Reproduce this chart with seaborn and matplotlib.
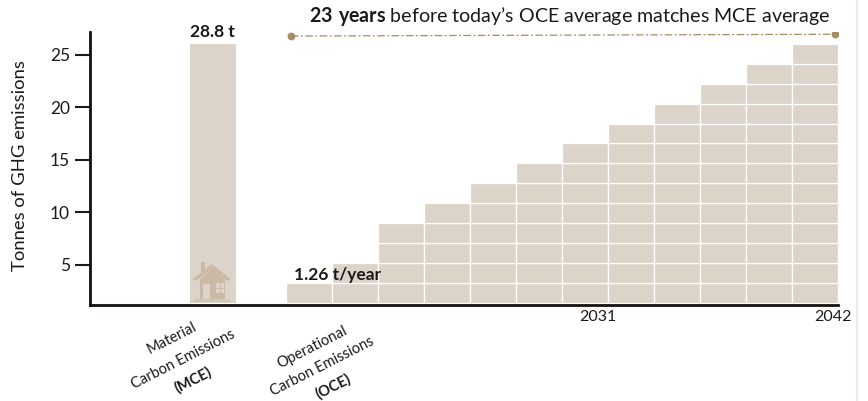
import matplotlib
matplotlib.use("Agg")
import matplotlib.pyplot as plt
from matplotlib.lines import Line2D
from matplotlib.patches import Polygon
from matplotlib.transforms import IdentityTransform
import pandas as pd
import seaborn as sns

# Emissions in tonnes of GHG
mce_total = 28.8
oce_rate = 1.26
block_tonnes = 2.215
column_index = list(range(12))
blocks_per_column = [1, 2, 4, 5, 6, 7, 8, 9, 10, 11, 12, 13]
y_tick_labels = [5, 10, 15, 20, 25]
mce_lines = ["Material", "Carbon Emissions", "(MCE)"]
oce_lines = ["Operational", "Carbon Emissions", "(OCE)"]
year_labels = ["2031", "2042"]

BAR = "#ddd4c9"
INK = "#1c1a18"
LINK = "#a68c66"
ICON = "#c9b9a5"

sns.set_theme(style="white")
plt.rcParams["font.family"] = ["Lato", "DejaVu Sans"]
plt.rcParams["mathtext.fontset"] = "custom"
plt.rcParams["mathtext.bf"] = "Lato:bold"
plt.rcParams["mathtext.rm"] = "Lato"

W, H = 868, 401
fig = plt.figure(figsize=(W / 100, H / 100), dpi=100)
ax = fig.add_axes([90 / W, (H - 305) / H, (838 - 90) / W, (305 - 32) / H])

# Stacked yearly blocks, one barplot call per layer
blocks = pd.DataFrame({"column": column_index, "count": blocks_per_column})
for layer in range(max(blocks_per_column)):
    row = blocks[blocks["count"] > layer]
    sns.barplot(data=row.assign(h=block_tonnes), x="column", y="h",
                native_scale=True, width=1.0, color=BAR, saturation=1,
                edgecolor="white", linewidth=0.9,
                bottom=layer * block_tonnes, ax=ax)

# Single material-emissions bar
mce_x = -2.09
sns.barplot(x=[mce_x], y=[mce_total], native_scale=True, width=1.0,
            color=BAR, saturation=1, linewidth=0, ax=ax)

ax.set_xlim(-4.761, 11.5)
ax.set_ylim(-0.22, 30.1)

# Connector spanning the payback period
sns.lineplot(x=[-0.391, 11.43], y=[29.65, 29.85], color=LINK, linewidth=0.9,
             linestyle=(0, (6, 2, 1.5, 2)), ax=ax, legend=False)
ax.plot([-0.391, 11.43], [29.65, 29.85], ls="none", marker="o", ms=4.6,
        color=LINK)

# Axes styling
sns.despine(ax=ax)
for side in ("left", "bottom"):
    ax.spines[side].set_linewidth(2)
    ax.spines[side].set_color("#14110f")

tick_pos = [1.1667 * v - 1.61 for v in y_tick_labels]
ax.set_yticks(tick_pos, labels=[str(v) for v in y_tick_labels])
ax.tick_params(axis="y", length=11, width=1.5, color=INK, labelsize=12.5,
               labelcolor=INK, pad=3.5, left=True)
ax.get_yticklines()[4].set_color("#8c7660")
ax.set_ylabel("Tonnes of GHG emissions", fontsize=13.3, color=INK)
ax.yaxis.set_label_coords(-62 / (838 - 90), 0.51)

ax.set_xticks([6.283, 11.39], labels=year_labels)
ax.set_xlabel("")
ax.tick_params(axis="x", length=0, labelcolor=INK, labelsize=11.5, pad=3.5,
               bottom=False)

# Slanted category captions, one text per line
caption_spots = [
    (mce_lines, [(172, 338), (183, 359), (193, 380)]),
    (oce_lines, [(312, 347), (322, 366), (333, 386)]),
]
for lines, spots in caption_spots:
    for i, (line, (cx, cy)) in enumerate(zip(lines, spots)):
        fig.text(cx / W, (H - cy) / H, line, rotation=27, rotation_mode="anchor",
                 ha="center", va="center", fontsize=10.5, color=INK,
                 fontweight="bold" if i == 2 else "normal")

# Annotations
ax.text(mce_x, mce_total + 0.4, f"{mce_total} t", ha="center", va="bottom",
        fontsize=12.6, fontweight="bold", color=INK)
ax.text(-0.326, 3.13, f"{oce_rate} t/year", ha="left", va="center",
        fontsize=12.5, fontweight="bold", color=INK)
fig.text(570 / W, (H - 17) / H,
         "$\\mathbf{23\\ years}$ before today\u2019s OCE average matches MCE average",
         ha="center", va="center", fontsize=14.1, color=INK)


# Small house pictogram at the foot of the MCE bar, in pixel coordinates
def px(points):
    return [(x, H - y) for x, y in points]


def icon(patch):
    patch.set_transform(IdentityTransform())
    fig.add_artist(patch)


def box(x0, y0, x1, y1, color):
    icon(Polygon(px([(x0, y0), (x1, y0), (x1, y1), (x0, y1)]), closed=True,
                 facecolor=color, edgecolor="none"))


box(200.7, 262, 205, 272, ICON)
icon(Polygon(px([(211.7, 264), (230.5, 279), (228, 281), (211.7, 269),
                 (195.5, 281), (193, 279)]), closed=True,
             facecolor=ICON, edgecolor="none"))
icon(Polygon(px([(211.7, 269), (225, 279), (225, 299), (200, 299), (200, 279)]),
             closed=True, facecolor=ICON, edgecolor="none"))
icon(Polygon(px([(196, 299), (228, 299), (233, 302), (191, 302)]), closed=True,
             facecolor="#d3c6b6", edgecolor="none"))
box(202.5, 284, 209.5, 299, BAR)
box(216, 283, 224, 293, BAR)
box(219.5, 283, 220.5, 293, ICON)
box(216, 287.5, 224, 288.5, ICON)

# Pale strip near the right edge
fig.add_artist(Line2D([857 / W, 857 / W], [0, 1], color="#efe9e1", linewidth=1.6))

fig.savefig("out.png", dpi=100, facecolor="white")
